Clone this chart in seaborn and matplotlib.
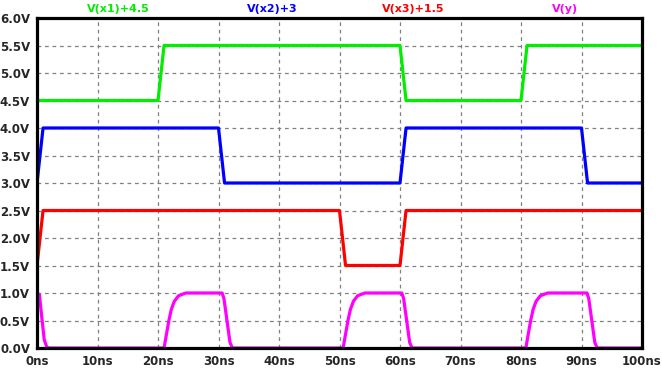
import pandas as pd
import matplotlib
matplotlib.use("Agg")
from matplotlib import pyplot as plt
from matplotlib.ticker import FuncFormatter, MultipleLocator
import seaborn as sns

sns.set_style("white")
plt.rcParams['font.family'] = ['DejaVu Sans']

# traces (time in ns, logic value before offset)
t_x1 = [0, 20, 21, 60, 61, 80, 81, 100]
v_x1 = [0, 0, 1, 1, 0, 0, 1, 1]

t_x2 = [0, 1, 30, 31, 60, 61, 90, 91, 100]
v_x2 = [0, 1, 1, 0, 0, 1, 1, 0, 0]

t_x3 = [0, 1, 50, 51, 60, 61, 100]
v_x3 = [0, 1, 1, 0, 0, 1, 1]

t_y = [0, 0.4, 0.8, 1.2, 1.6, 2.0,
       21.0, 21.4, 21.8, 22.2, 22.7, 23.4, 24.6, 30.6, 30.9, 31.4, 31.9, 32.3,
       50.6, 51.0, 51.4, 51.8, 52.3, 53.0, 54.2, 60.3, 60.6, 61.1, 61.6, 62.0,
       80.8, 81.2, 81.6, 82.0, 82.5, 83.2, 84.4, 90.9, 91.2, 91.7, 92.2, 92.6,
       100]
v_y = [1, 0.97, 0.55, 0.15, 0.02, 0,
       0, 0.25, 0.5, 0.7, 0.85, 0.95, 1.0, 1.0, 0.9, 0.5, 0.1, 0,
       0, 0.25, 0.5, 0.7, 0.85, 0.95, 1.0, 1.0, 0.9, 0.5, 0.1, 0,
       0, 0.25, 0.5, 0.7, 0.85, 0.95, 1.0, 1.0, 0.9, 0.5, 0.1, 0,
       0]

names = ["V(x1)+4.5", "V(x2)+3", "V(x3)+1.5", "V(y)"]
offsets = [4.5, 3.0, 1.5, 0.0]
colors = ["#00ee00", "#0000ff", "#ff0000", "#ff00ff"]
times = [t_x1, t_x2, t_x3, t_y]
values = [v_x1, v_x2, v_x3, v_y]

fig = plt.figure(figsize=(6.62, 3.74), dpi=100)
ax = fig.add_axes([37/662, 1-348/374, 605/662, 330/374])

for name, off, col, t, v in zip(names, offsets, colors, times, values):
    df = pd.DataFrame({"t": t, "v": [a + off for a in v]})
    sns.lineplot(data=df, x="t", y="v", color=col, linewidth=2.3, ax=ax,
                 estimator=None, sort=False)

ax.set_xlim(0, 100)
ax.set_ylim(0, 6)
ax.xaxis.set_major_locator(MultipleLocator(10))
ax.yaxis.set_major_locator(MultipleLocator(0.5))
ax.xaxis.set_major_formatter(FuncFormatter(lambda x, p: f"{x:.0f}ns"))
ax.yaxis.set_major_formatter(FuncFormatter(lambda y, p: f"{y:.1f}V"))
ax.grid(True, color="#808080", linestyle=(0, (3, 3)), linewidth=0.9)
ax.set_axisbelow(True)
ax.set_xlabel("")
ax.set_ylabel("")
for s in ax.spines.values():
    s.set_color("black")
    s.set_linewidth(2.3)
ax.tick_params(axis="both", direction="out", length=4, width=2, color="black",
               labelsize=8.5, pad=1)
for lab in ax.get_xticklabels() + ax.get_yticklabels():
    lab.set_fontweight("bold")

label_x = [118, 272, 413, 565]
for name, col, px in zip(names, colors, label_x):
    fig.text(px/662, 1-9/374, name, color=col, ha="center", va="center",
             fontsize=8, fontweight="bold")

fig.savefig("out.png", dpi=100, facecolor="white")
